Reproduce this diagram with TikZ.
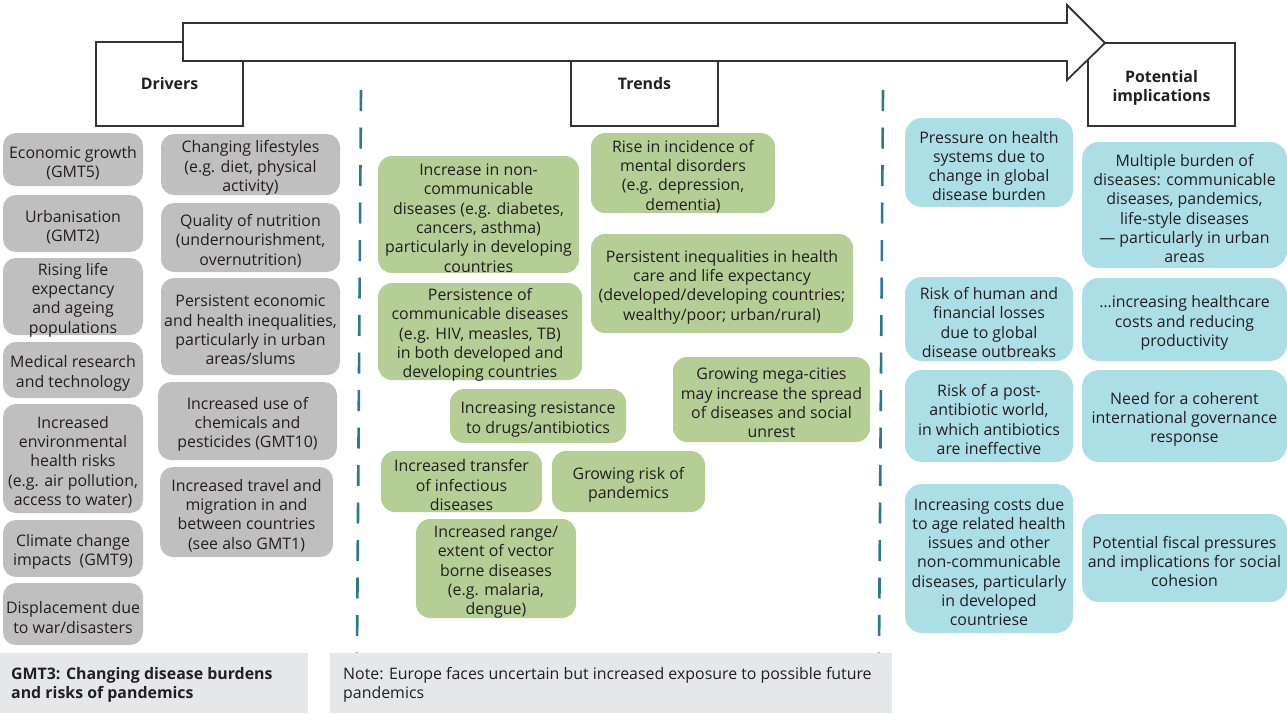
\documentclass[tikz,border=0pt]{standalone}
\usepackage{fontspec}
\setmainfont{Open Sans}
\usetikzlibrary{positioning}

\definecolor{txt}{HTML}{231F20}
\definecolor{drvfill}{HTML}{BFBFBF}
\definecolor{trdfill}{HTML}{B5CE95}
\definecolor{impfill}{HTML}{ACDEE6}
\definecolor{notefill}{HTML}{E6E7E8}
\definecolor{sep}{HTML}{2B7A8C}
\definecolor{frame}{HTML}{333333}

% box from (x2,y2) to (x4,y4) in pixel-like units; the text sits in a
% centred label, lowered by the optional first argument
\newcommand\cbox[8][-3.5]{%
  \node[#7, minimum width={#5-#3}, minimum height={#6-#4},
        label={[boxtext, yshift=#1pt]center:{#8}}]
    (#2) at ({(#3+#5)/2},{(#4+#6)/2}) {};}

\tikzset{
  boxtext/.style={inner sep=0pt, outer sep=0pt, align=center, text=txt,
    font=\fontsize{15.9}{19.3}\selectfont},
  base/.style={inner sep=0pt, outer sep=0pt},
  drv/.style={base, fill=drvfill, rounded corners=13pt},
  trd/.style={base, fill=trdfill, rounded corners=14pt},
  imp/.style={base, fill=impfill, rounded corners=17pt},
  head/.style={base, draw=frame, line width=1.8pt, fill=white},
  headtext/.style={font=\fontsize{15.9}{19.3}\selectfont\bfseries},
  notebox/.style={inner sep=0pt, outer sep=0pt, fill=notefill},
  notetext/.style={inner sep=0pt, align=left, text=txt,
    font=\fontsize{15.9}{19.3}\selectfont},
  sepline/.style={draw=sep, line width=2.6pt, dash pattern=on 21pt off 16.5pt},
  bigarrow/.style={draw=frame, line width=1.8pt, fill=white, line join=miter}
}

\begin{document}
\begin{tikzpicture}[x=1pt, y=-1pt]
\useasboundingbox (0,0) rectangle (1287,713);

% column separators
\coordinate (s1a) at (361,90);  \coordinate (s1b) at (357,655);
\coordinate (s2a) at (883,90);  \coordinate (s2b) at (879,655);
\draw[sepline] (s1a) -- (s1b);
\draw[sepline] (s2a) -- (s2b);

% column headers
\cbox[0]{drivers}{96}{42}{243}{126}{head}{\bfseries Drivers}
\cbox[0]{trends}{571}{42}{718}{126}{head}{\bfseries Trends}
\cbox{impl}{1088}{43}{1235}{126}{head}{\bfseries Potential\\\bfseries implications}

% block arrow over the headers
\coordinate (a1) at (183,23);
\coordinate (a2) at (1067,23);
\coordinate (a3) at (1067,5);
\coordinate (a4) at (1105,43);
\coordinate (a5) at (1067,80);
\coordinate (a6) at (1067,61);
\coordinate (a7) at (183,61);
\draw[bigarrow] (a1) -- (a2) -- (a3) -- (a4) -- (a5) -- (a6) -- (a7) -- cycle;

% drivers, first column
\cbox{econ}{3}{133}{143}{186}{drv}{Economic growth\\(GMT5)}
\cbox{urban}{3}{195}{143}{252}{drv}{Urbanisation\\(GMT2)}
\cbox{ageing}{3}{258}{143}{335}{drv}{Rising life\\expectancy\\and ageing\\populations}
\cbox{medres}{3}{342}{143}{398}{drv}{Medical research\\and technology}
\cbox{envrisk}{3}{404}{143}{513}{drv}{Increased\\environmental\\health risks\\(e.g. air pollution,\\access to water)}
\cbox{climate}{3}{520}{143}{577}{drv}{Climate change\\impacts\ \ (GMT9)}
\cbox{displace}{3}{583}{143}{645}{drv}{Displacement due\\to war/disasters}

% drivers, second column
\cbox{lifestyle}{161}{134}{340}{195}{drv}{Changing lifestyles\\(e.g. diet, physical\\activity)}
\cbox{nutrition}{161}{203}{340}{272}{drv}{Quality of nutrition\\(undernourishment,\\overnutrition)}
\cbox{econineq}{161}{278}{340}{375}{drv}{Persistent economic\\and health inequalities,\\particularly in urban\\areas/slums}
\cbox{chemicals}{158}{382}{337}{460}{drv}{Increased use of\\chemicals and\\pesticides (GMT10)}
\cbox{travel}{160}{467}{333}{557}{drv}{Increased travel and\\migration in and\\between countries\\(see also GMT1)}

% trends
\cbox{ncd}{378}{156}{579}{273}{trd}{Increase in non-\\communicable\\diseases (e.g. diabetes,\\cancers, asthma)\\particularly in developing\\countries}
\cbox{mental}{591}{133}{775}{213}{trd}{Rise in incidence of\\mental disorders\\(e.g. depression,\\dementia)}
\cbox{healthineq}{591}{234}{853}{333}{trd}{Persistent inequalities in health\\care and life expectancy\\(developed/developing countries;\\wealthy/poor; urban/rural)}
\cbox{communic}{378}{283}{582}{380}{trd}{Persistence of\\communicable diseases\\(e.g. HIV, measles, TB)\\in both developed and\\developing countries}
\cbox{megacity}{673}{357}{870}{442}{trd}{Growing mega-cities\\may increase the spread\\of diseases and social\\unrest}
\cbox{resist}{450}{389}{626}{443}{trd}{Increasing resistance\\to drugs/antibiotics}
\cbox{transfer}{381}{451}{542}{512}{trd}{Increased transfer\\of infectious\\diseases}
\cbox{pandrisk}{552}{451}{705}{512}{trd}{Growing risk of\\pandemics}
\cbox{vector}{416}{519}{576}{618}{trd}{Increased range/\\extent of vector\\borne diseases\\(e.g. malaria,\\dengue)}

% potential implications
\cbox{pressure}{905}{118}{1073}{207}{imp}{Pressure on health\\systems due to\\change in global\\disease burden}
\cbox{multiple}{1082}{142}{1287}{268}{imp}{Multiple burden of\\diseases: communicable\\diseases, pandemics,\\life-style diseases\\— particularly in urban\\areas}
\cbox{losses}{905}{277}{1073}{361}{imp}{Risk of human and\\financial losses\\due to global\\disease outbreaks}
\cbox{hccosts}{1082}{278}{1287}{361}{imp}{…increasing healthcare\\costs and reducing\\productivity}
\cbox{postanti}{905}{370}{1073}{462}{imp}{Risk of a post-\\antibiotic world,\\in which antibiotics\\are ineffective}
\cbox{governance}{1082}{370}{1287}{462}{imp}{Need for a coherent\\international governance\\response}
\cbox{agecosts}{905}{484}{1073}{633}{imp}{Increasing costs due\\to age related health\\issues and other\\non-communicable\\diseases, particularly\\in developed\\countriese}
\cbox{fiscal}{1082}{514}{1287}{602}{imp}{Potential fiscal pressures\\and implications for social\\cohesion}

% footer panels
\node[notebox, minimum width=308, minimum height=60] (titlepanel) at (154,683) {};
\node[notebox, minimum width=562, minimum height=60] (notepanel) at (611,683) {};
\node[notetext, anchor=west, font=\fontsize{15.9}{19.3}\selectfont\bfseries]
  (title) at (11,685) {GMT3: Changing disease burdens\\and risks of pandemics};
\node[notetext, anchor=west] (note) at (343,685)
  {Note: Europe faces uncertain but increased exposure to possible future\\pandemics};
\end{tikzpicture}
\end{document}
